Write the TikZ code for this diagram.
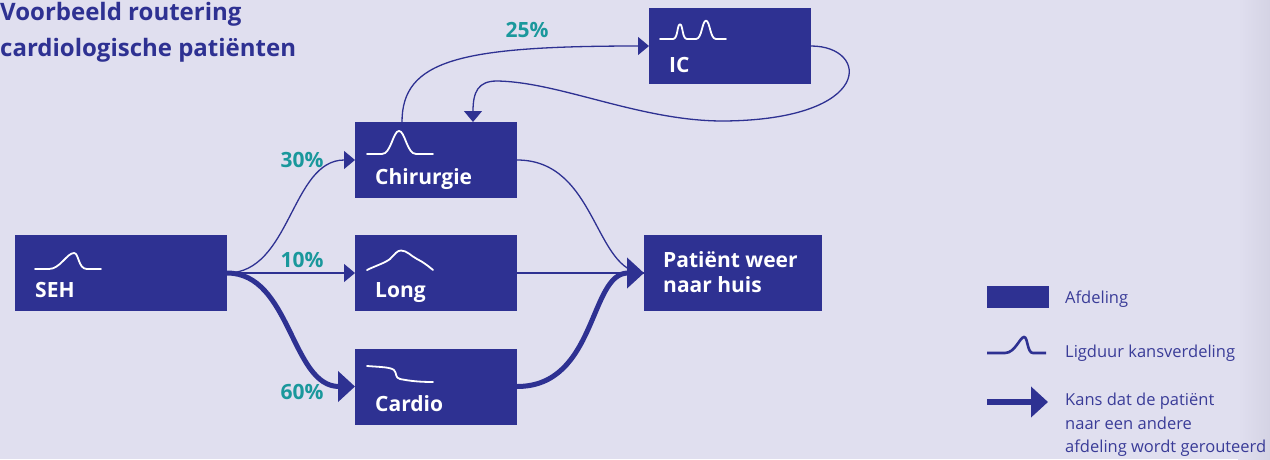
\documentclass[tikz,border=0pt]{standalone}
\usepackage{fontspec}
\setmainfont{Open Sans}
\usetikzlibrary{arrows.meta}
\definecolor{bg}{RGB}{224,223,239}
\definecolor{bgdark}{RGB}{212,211,228}
\definecolor{boxc}{RGB}{46,49,146}
\definecolor{teal}{RGB}{26,152,156}
\definecolor{legtext}{RGB}{58,60,152}
\tikzset{
  dept/.style={fill=boxc, draw=none, inner sep=0pt, outer sep=0pt, minimum width=162pt, minimum height=76pt},
  lbl/.style={text=white, inner sep=0pt, anchor=base west, font=\fontsize{21}{25}\selectfont\bfseries},
  pct/.style={text=teal, inner sep=0pt, font=\fontsize{21}{25}\selectfont\bfseries},
  ttl/.style={text=boxc, inner sep=0pt, anchor=base west, font=\fontsize{24}{28}\selectfont\bfseries},
  legt/.style={text=legtext, inner sep=0pt, anchor=base west, font=\fontsize{16.5}{23.5}\selectfont},
  icon/.style={draw=white, line width=1.8pt, line cap=round, line join=round},
  thinlink/.style={draw=boxc, line width=1.3pt},
  thinarrow/.style={thinlink, -{Triangle[length=11pt,width=18pt]}},
  thickarrow/.style={draw=boxc, line width=5pt, -{Triangle[length=17pt,width=30pt]}},
}
\begin{document}
\begin{tikzpicture}[x=1pt,y=-1pt]
\useasboundingbox (0,0) rectangle (1270,459);
\fill[bg] (0,0) rectangle (1270,459);
\shade[left color=bg, right color=bgdark] (1238,0) rectangle (1270,459);

% title
\node[ttl] (t1) at (0,20) {Voorbeeld routering};
\node[ttl] (t2) at (0,56) {cardiologische patiënten};

% departments
\node[dept, minimum width=212pt] (seh) at (121,273) {};
\node[dept] (chir) at (436,160) {};
\node[dept] (long) at (436,273) {};
\node[dept] (cardio) at (436,386.5) {};
\node[dept] (ic) at (730,46) {};
\node[dept, minimum width=178pt] (pat) at (733,273) {};

% labels
\node[lbl] (sehL) at ([xshift=20pt,yshift=13.5pt]seh.south west) {SEH};
\node[lbl] (chirL) at ([xshift=20pt,yshift=13.5pt]chir.south west) {Chirurgie};
\node[lbl] (longL) at ([xshift=20pt,yshift=13.5pt]long.south west) {Long};
\node[lbl] (cardioL) at ([xshift=20pt,yshift=13.5pt]cardio.south west) {Cardio};
\node[lbl] (icL) at ([xshift=20pt,yshift=12pt]ic.south west) {IC};
\node[lbl, align=left] (patL) at ([xshift=19pt,yshift=19pt]pat.south west) {Patiënt weer\\naar huis};

% icons
\begin{scope}[shift={(15,235)}]
\draw[icon] (20,34) -- (34,34) .. controls (45,34) and (52,18) .. (59,18) .. controls (64,18) and (63,34) .. (72,34) -- (86,34);
\end{scope}
\begin{scope}[shift={(355,122)}]
\draw[icon] (12,32) -- (27,32) .. controls (36,32) and (38,9) .. (44,9) .. controls (50,9) and (52,32) .. (61,32) -- (78,32);
\end{scope}
\begin{scope}[shift={(355,235)}]
\draw[icon] (12,35) .. controls (20,31) and (30,28) .. (35,24) .. controls (40,19) and (42,15.5) .. (46,15.5) .. controls (52,15.5) and (56,21) .. (62,24) .. controls (68,27) and (72,30) .. (78,35);
\end{scope}
\begin{scope}[shift={(355,349)}]
\draw[icon] (12,17) .. controls (25,18) and (35,18) .. (39,21) .. controls (42,24) and (40,29) .. (45,30) .. controls (55,32) and (65,33) .. (78,33);
\end{scope}
\begin{scope}[shift={(649,8)}]
\draw[icon] (11,31) -- (24,31) .. controls (29,31) and (28,16.3) .. (31,16.3) .. controls (34,16.3) and (33,31) .. (38,31) -- (47,31) .. controls (53,31) and (53,12.7) .. (57,12.7) .. controls (61,12.7) and (61,31) .. (67,31) -- (77,31);
\end{scope}

% connectors
\draw[thinarrow] (seh.east) .. controls +(64,0) and +(-64,0) .. (chir.west);
\draw[thinarrow] (seh.east) -- (long.west);
\draw[thickarrow] (seh.east) .. controls +(64,0) and +(-64,0) .. (cardio.west);
\draw[thinlink] (chir.east) .. controls +(80,0) and +(-50,0) .. (pat.west);
\draw[thinlink] (long.east) -- (pat.west);
\draw[thickarrow] (cardio.east) .. controls +(80,0) and +(-55,0) .. (pat.west);
\draw[thinarrow] ([xshift=-34pt]chir.north) .. controls +(0,-62) and +(-189,0) .. (ic.west);
\coordinate (loopA) at (723,121);
\coordinate (loopB) at (497,81);
\draw[thinarrow] (ic.east) .. controls (870,46) and (875,120) .. (loopA) .. controls (640,121) and (560,82) .. (loopB) .. controls (478,81) and (473,92) .. ([xshift=37pt]chir.north);

% percentages
\node[pct] (p30) at (302,160) {30\%};
\node[pct] (p10) at (302,260) {10\%};
\node[pct] (p60) at (302,392) {60\%};
\node[pct] (p25) at (527,30) {25\%};

% legend
\node[fill=boxc, inner sep=0pt, minimum width=62pt, minimum height=22pt] (legBox) at (1018,297) {};
\node[legt] (legBoxT) at (1065,303.3) {Afdeling};
\begin{scope}[shift={(987,353)}]
\draw[draw=boxc, line width=2.6pt] (0,0) -- (18,0) .. controls (28,0) and (33,-16) .. (37,-16) .. controls (41,-16) and (40,0) .. (46,0) -- (59,0);
\end{scope}
\node[legt] (legCT) at (1065,357.3) {Ligduur kansverdeling};
\coordinate (legA1) at (987,402);
\coordinate (legA2) at (1048,402);
\draw[draw=boxc, line width=6pt, -{Triangle[length=17pt,width=30pt]}] (legA1) -- (legA2);
\node[legt, align=left] (legAT) at (1065,452.7) {Kans dat de patiënt\\naar een andere\\afdeling wordt gerouteerd};
\end{tikzpicture}
\end{document}
